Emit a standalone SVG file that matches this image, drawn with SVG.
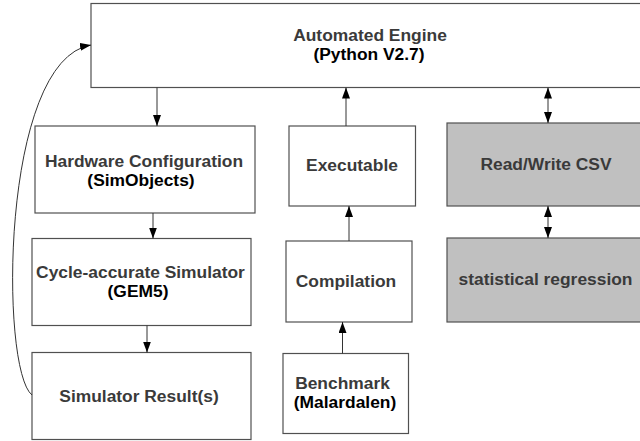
<svg xmlns="http://www.w3.org/2000/svg" width="640" height="441" viewBox="0 0 640 441">
  <defs>
    <marker id="head" viewBox="0 0 11 8" refX="11" refY="4" markerWidth="11" markerHeight="8" markerUnits="userSpaceOnUse" orient="auto-start-reverse">
      <path d="M0,0 L11,4 L0,8 Z" fill="#000"/>
    </marker>
    <style>
      .box { fill: #fff; stroke: #505050; stroke-width: 1.2; }
      .shade { fill: #c0c0c0; stroke: #505050; stroke-width: 1.2; }
      .label { font-family: "Liberation Sans", Arial, sans-serif; font-weight: bold; font-size: 17.4px; fill: #3a3a3a; text-anchor: middle; }
      .sub { fill: #000; }
      .link { fill: none; stroke: #333; stroke-width: 1; }
    </style>
  </defs>
  <rect width="640" height="441" fill="#fff"/>

  <g id="engine">
    <rect class="box" x="91" y="3.5" width="560" height="84"/>
    <text class="label" x="370" y="40.5">Automated Engine</text>
    <text class="label sub" x="369" y="60">(Python V2.7)</text>
  </g>

  <g id="hwconfig">
    <rect class="box" x="35" y="126" width="220" height="87"/>
    <text class="label" x="144" y="166.5">Hardware Configuration</text>
    <text class="label sub" x="141" y="185.5">(SimObjects)</text>
  </g>

  <g id="simulator">
    <rect class="box" x="32" y="238.5" width="219" height="87"/>
    <text class="label" x="140.5" y="277.5">Cycle-accurate Simulator</text>
    <text class="label sub" x="138" y="297">(GEM5)</text>
  </g>

  <g id="results">
    <rect class="box" x="32" y="352.5" width="219" height="87"/>
    <text class="label" x="139" y="401.5">Simulator Result(s)</text>
  </g>

  <g id="executable">
    <rect class="box" x="289" y="126" width="126.5" height="80"/>
    <text class="label" x="352" y="170.5">Executable</text>
  </g>

  <g id="compilation">
    <rect class="box" x="286" y="241" width="126" height="81"/>
    <text class="label" x="346" y="286.5">Compilation</text>
  </g>

  <g id="benchmark">
    <rect class="box" x="283" y="353.5" width="125.5" height="80"/>
    <text class="label" x="342.5" y="388.5">Benchmark</text>
    <text class="label sub" x="345" y="408">(Malardalen)</text>
  </g>

  <g id="csv">
    <rect class="shade" x="447" y="123" width="200" height="83"/>
    <text class="label" x="546" y="170">Read/Write CSV</text>
  </g>

  <g id="regression">
    <rect class="shade" x="447" y="238" width="200" height="84"/>
    <text class="label" x="545.5" y="285">statistical regression</text>
  </g>

  <g id="connectors">
    <line class="link" x1="157" y1="87.5" x2="157" y2="126" marker-end="url(#head)"/>
    <line class="link" x1="153" y1="213" x2="153" y2="238.5" marker-end="url(#head)"/>
    <line class="link" x1="147" y1="325.5" x2="147" y2="352.5" marker-end="url(#head)"/>
    <line class="link" x1="346" y1="126" x2="346" y2="87.5" marker-end="url(#head)"/>
    <line class="link" x1="349" y1="241" x2="349" y2="206" marker-end="url(#head)"/>
    <line class="link" x1="342.5" y1="353.5" x2="342.5" y2="322" marker-end="url(#head)"/>
    <line class="link" x1="548" y1="87.5" x2="548" y2="123" marker-start="url(#head)" marker-end="url(#head)"/>
    <line class="link" x1="548" y1="206" x2="548" y2="238" marker-start="url(#head)" marker-end="url(#head)"/>
    <path class="link" d="M32,395 C0,370 0,60 91,45" marker-end="url(#head)"/>
  </g>
</svg>
